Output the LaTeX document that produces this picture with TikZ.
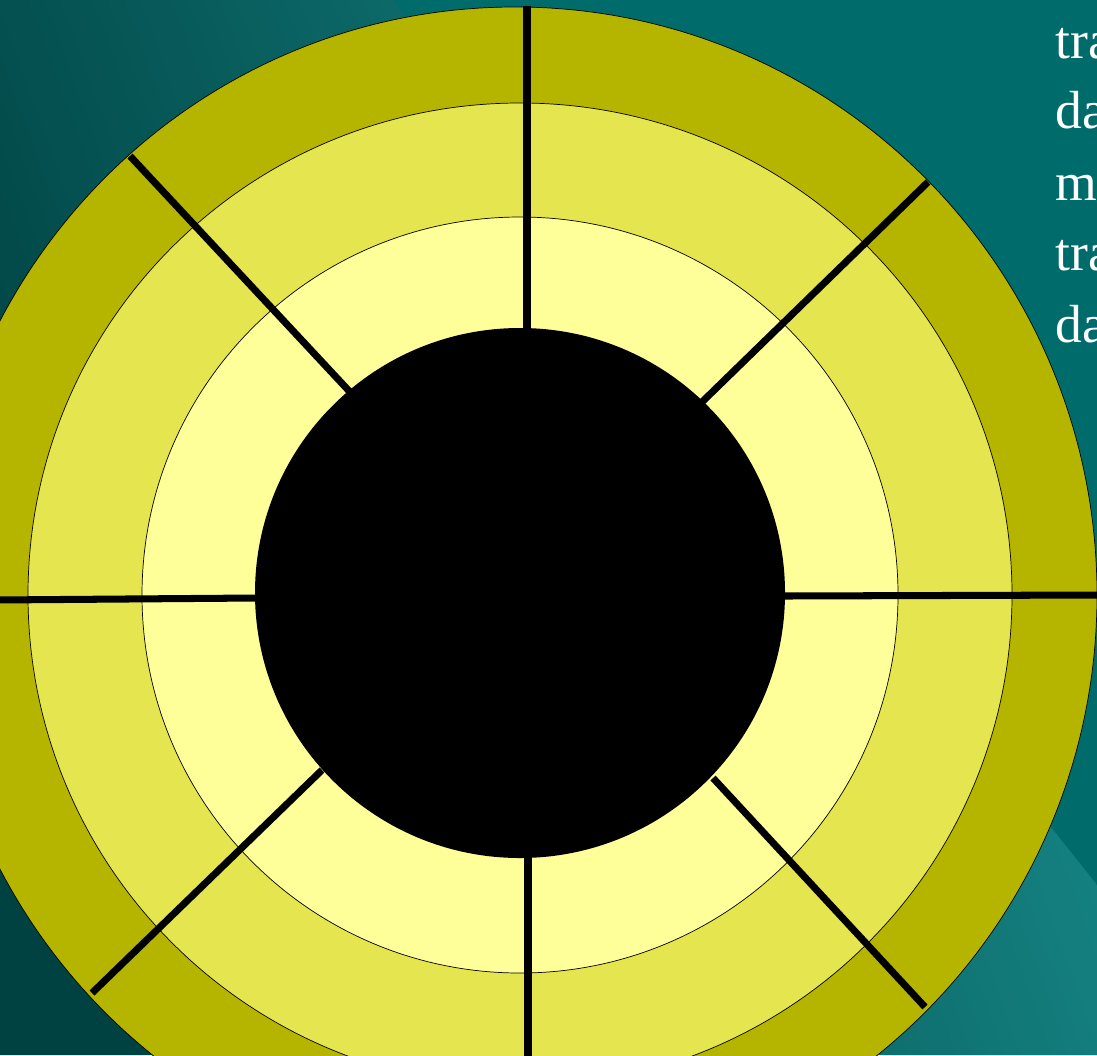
\documentclass[tikz,border=0pt]{standalone}
\usepackage{fontspec}
\setmainfont{Liberation Serif}
\definecolor{sea}{HTML}{006B6B}
\definecolor{seadark}{HTML}{004242}
\definecolor{sealight}{HTML}{188A8A}
\definecolor{rimolive}{HTML}{B5B500}
\definecolor{midyellow}{HTML}{E5E54F}
\definecolor{paleyellow}{HTML}{FFFF99}
\begin{document}
\begin{tikzpicture}[x=0.02cm, y=-0.02cm,
  ring/.style={draw=black, line width=0.4pt},
  spoke/.style={draw=black, line width=4pt},
  word/.style={anchor=base west, text=white, inner sep=0pt, font=\fontsize{30.5}{36}\selectfont}]
\useasboundingbox (0,0) rectangle (1097,1055);
\clip (0,0) rectangle (1097,1055);
\fill[sea] (0,0) rectangle (1097,1055);
\shade[bottom color=seadark, top color=sealight, shading angle=-70] (0,0) -- (393,0) -- (1097,885) -- (1097,1055) -- (0,1055) -- cycle;
\node[word] (line1) at (1055,58) {tra};
\node[word] (line2) at (1055,128) {da};
\node[word] (line3) at (1055,200) {m};
\node[word] (line4) at (1055,270) {tra};
\node[word] (line5) at (1055,342) {da};
\filldraw[ring, fill=rimolive] (515,595) ellipse [x radius=582, y radius=588];
\filldraw[ring, fill=midyellow] (520,595) circle [radius=492];
\filldraw[ring, fill=paleyellow] (520,595) circle [radius=378];
\fill[black] (520,593) circle [radius=265];
\coordinate (top out) at (527,6);
\coordinate (top in) at (527,329);
\coordinate (bottom in) at (528,858);
\coordinate (bottom out) at (528,1060);
\coordinate (left out) at (-5,600);
\coordinate (left in) at (256,598);
\coordinate (right in) at (784,596);
\coordinate (right out) at (1100,595);
\coordinate (nw out) at (130,156);
\coordinate (nw in) at (350,392);
\coordinate (ne out) at (928,182);
\coordinate (ne in) at (702,402);
\coordinate (sw out) at (92,993);
\coordinate (sw in) at (322,770);
\coordinate (se out) at (925,1007);
\coordinate (se in) at (713,778);
\draw[spoke] (top out) -- (top in);
\draw[spoke] (bottom in) -- (bottom out);
\draw[spoke] (left out) -- (left in);
\draw[spoke] (right in) -- (right out);
\draw[spoke] (nw out) -- (nw in);
\draw[spoke] (ne out) -- (ne in);
\draw[spoke] (sw out) -- (sw in);
\draw[spoke] (se out) -- (se in);
\end{tikzpicture}
\end{document}
